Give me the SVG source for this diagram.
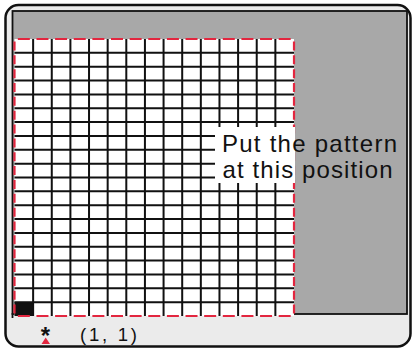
<svg xmlns="http://www.w3.org/2000/svg" width="413" height="351" viewBox="0 0 413 351">
  <style>
    .frame { fill: #ebebeb; stroke: #111; stroke-width: 2.5; }
    .screen { fill: #a8a8a8; stroke: #111; stroke-width: 1.8; }
    .cellbg { fill: #ffffff; }
    .gl { stroke: #111; stroke-width: 2; fill: none; }
    .redh { stroke: #e3263f; stroke-width: 2.2; fill: none; stroke-dasharray: 12 6.633; stroke-dashoffset: 15.3; }
    .redv { stroke: #e3263f; stroke-width: 2.2; fill: none; stroke-dasharray: 9 4.85; stroke-dashoffset: 11.4; }
    .lbl { font-family: "Liberation Sans", Arial, sans-serif; fill: #111; }
  </style>
  <rect width="413" height="351" fill="#ffffff"/>
  <g id="frame">
    <rect class="frame" x="5.5" y="5" width="405" height="341.5" rx="13"/>
    <rect class="screen" x="12.5" y="11" width="394.5" height="303"/>
    <line x1="12.5" y1="313" x2="12.5" y2="318" stroke="#111" stroke-width="1.8"/>
  </g>
  <g id="grid">
    <rect class="cellbg" x="14.5" y="39" width="279.5" height="277"/>
    <rect x="14.5" y="302.15" width="18.63" height="13.85" fill="#111"/>
    <path class="gl" d="M33.13 39V316 M51.77 39V316 M70.4 39V316 M89.03 39V316 M107.67 39V316 M126.3 39V316 M144.93 39V316 M163.57 39V316 M182.2 39V316 M200.83 39V316 M219.47 39V316 M238.1 39V316 M256.73 39V316 M275.37 39V316"/>
    <path class="gl" d="M14.5 52.85H294 M14.5 66.7H294 M14.5 80.55H294 M14.5 94.4H294 M14.5 108.25H294 M14.5 122.1H294 M14.5 135.95H294 M14.5 149.8H294 M14.5 163.65H294 M14.5 177.5H294 M14.5 191.35H294 M14.5 205.2H294 M14.5 219.05H294 M14.5 232.9H294 M14.5 246.75H294 M14.5 260.6H294 M14.5 274.45H294 M14.5 288.3H294 M14.5 302.15H294"/>
    <path class="redh" d="M14.5 39H294"/>
    <path class="redh" d="M14.5 316H294"/>
    <path class="redv" d="M14.5 39V316"/>
    <path class="redv" d="M294 39V316"/>
  </g>
  <g id="callout">
    <rect x="215" y="127" width="80" height="56" fill="#ffffff"/>
    <text class="lbl" x="222" y="151.5" font-size="24" textLength="175" lengthAdjust="spacing">Put the pattern</text>
    <text class="lbl" x="222.5" y="178" font-size="24" textLength="170" lengthAdjust="spacing">at this position</text>
  </g>
  <g id="origin">
    <text class="lbl" x="45.5" y="344" font-size="24" font-weight="bold" text-anchor="middle">*</text>
    <polygon points="41.5,344 50,344 45.7,337.5" fill="#e3263f"/>
    <text class="lbl" x="80" y="341" font-size="18.5" textLength="57" lengthAdjust="spacing">(1, 1)</text>
  </g>
</svg>
